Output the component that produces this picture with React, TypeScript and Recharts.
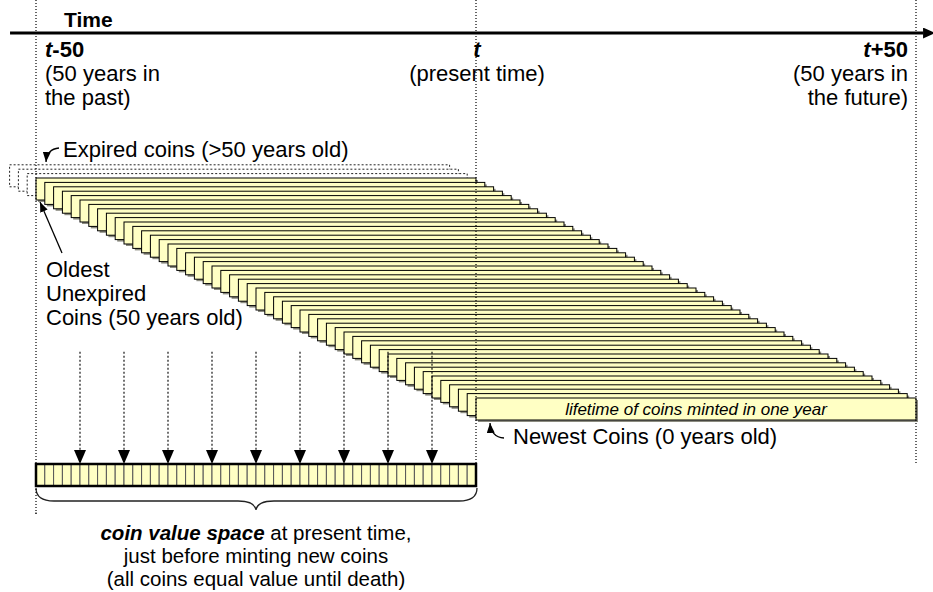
import React from "react";
import {
  ComposedChart,
  XAxis,
  YAxis,
  ReferenceArea,
  ReferenceLine,
  Customized,
} from "recharts";

// years are relative to the present time t
const mintYears = [
  -50, -49, -48, -47, -46, -45, -44, -43, -42, -41, -40, -39, -38, -37, -36, -35, -34,
  -33, -32, -31, -30, -29, -28, -27, -26, -25, -24, -23, -22, -21, -20, -19, -18, -17,
  -16, -15, -14, -13, -12, -11, -10, -9, -8, -7, -6, -5, -4, -3, -2, -1, 0,
];
const expiredYears = [-53, -52, -51];
const valueCells = [
  -50, -49, -48, -47, -46, -45, -44, -43, -42, -41, -40, -39, -38, -37, -36, -35, -34,
  -33, -32, -31, -30, -29, -28, -27, -26, -25, -24, -23, -22, -21, -20, -19, -18, -17,
  -16, -15, -14, -13, -12, -11, -10, -9, -8, -7, -6, -5, -4, -3, -2, -1,
];
const arrowYears = [-45, -40, -35, -30, -25, -20, -15, -10, -5];
const timeMarks = [-50, 0, 50];
const lifetime = 50;
const lifetimeLabel = "lifetime of coins minted in one year";

// vertical unit: one "row" per year of minting
const coinHeight = 5;
const timeAxisRow = -32.95;
const arrowTopRow = 39.5;
const valueTopRow = 65;
const braceRow = 76.8;

const FONT = "'Liberation Sans', Arial, sans-serif";
const COIN_FILL = "#ffffc4";

const CoinRect = (p: any) => (
  <g>
    <rect x={p.x + 2} y={p.y + 2} width={p.width} height={p.height} fill="#8c8c80" />
    <rect x={p.x} y={p.y} width={p.width} height={p.height} fill={COIN_FILL} stroke="#000" strokeWidth={1} />
  </g>
);

const LifetimeLabel = (p: any) => {
  const vb = p.viewBox || {};
  return (
    <text
      x={vb.x + vb.width / 2}
      y={vb.y + vb.height / 2 + 6}
      textAnchor="middle"
      fontFamily={FONT}
      fontSize={17}
      fontStyle="italic"
      fill="#000"
    >
      {p.value}
    </text>
  );
};

const Annotations = () => (
  <g fontFamily={FONT} fontSize={22} fill="#000">
    <defs>
      <marker id="axisHead" viewBox="0 0 12 11" refX="0" refY="5.5" markerWidth="12" markerHeight="11" markerUnits="userSpaceOnUse" orient="auto">
        <path d="M0,0 L12,5.5 L0,11 Z" fill="#000" />
      </marker>
      <marker id="downHead" viewBox="0 0 14 12" refX="14" refY="6" markerWidth="14" markerHeight="12" markerUnits="userSpaceOnUse" orient="auto">
        <path d="M0,0 L14,6 L0,12 Z" fill="#000" />
      </marker>
      <marker id="smallHead" viewBox="0 0 10 8" refX="10" refY="4" markerWidth="10" markerHeight="8" markerUnits="userSpaceOnUse" orient="auto">
        <path d="M0,0 L10,4 L0,8 Z" fill="#000" />
      </marker>
    </defs>

    <text x={64} y={27} fontSize={21} fontWeight="bold">Time</text>

    <text x={45} y={57} fontWeight="bold"><tspan fontStyle="italic">t</tspan>-50</text>
    <text x={45} y={81}>(50 years in</text>
    <text x={45} y={105}>the past)</text>

    <text x={477} y={57} fontWeight="bold" fontStyle="italic" textAnchor="middle">t</text>
    <text x={477} y={81} textAnchor="middle">(present time)</text>

    <text x={908} y={57} fontWeight="bold" textAnchor="end"><tspan fontStyle="italic">t</tspan>+50</text>
    <text x={908} y={81} textAnchor="end">(50 years in</text>
    <text x={908} y={105} textAnchor="end">the future)</text>

    <text x={63} y={157}>Expired coins (&gt;50 years old)</text>
    <path d="M59,148 Q47,149 46,162" fill="none" stroke="#000" strokeWidth={1.3} markerEnd="url(#smallHead)" />

    <text x={46} y={277}>Oldest</text>
    <text x={46} y={301}>Unexpired</text>
    <text x={46} y={325}>Coins (50 years old)</text>
    <line x1={62} y1={253} x2={40} y2={202} stroke="#000" strokeWidth={1.3} markerEnd="url(#smallHead)" />

    <text x={513} y={444}>Newest Coins (0 years old)</text>
    <path d="M504,438 Q491,437 490,423" fill="none" stroke="#000" strokeWidth={1.3} markerEnd="url(#smallHead)" />

    <path
      d="M36,488 C36,497 42,501 54,501 L238,501 C249,501 255,504 256,510 C257,504 263,501 274,501 L459,501 C471,501 477,497 477,488"
      fill="none"
      stroke="#222"
      strokeWidth={1.3}
    />
    <circle cx={36} cy={513} r={0.8} fill="#444" />

    <g fontSize={20.5} textAnchor="middle">
      <text x={256} y={540}>
        <tspan fontWeight="bold" fontStyle="italic">coin value space</tspan> at present time,
      </text>
      <text x={256} y={563}>just before minting new coins</text>
      <text x={256} y={586}>(all coins equal value until death)</text>
    </g>
  </g>
);

export default function App() {
  return (
    <div style={{ position: "absolute", left: 0, top: 0, background: "#fff" }}>
      <ComposedChart width={933} height={592} margin={{ top: 0, right: 0, bottom: 0, left: 0 }}>
        <XAxis type="number" dataKey="x" hide domain={[-54.0909, 51.9318]} allowDataOverflow />
        <YAxis type="number" dataKey="y" hide reversed domain={[-40.4545, 94.0909]} allowDataOverflow />

        <Customized component={Annotations} />

        {expiredYears.map((yr, i) => (
          <ReferenceArea
            key={"e" + yr}
            x1={yr}
            x2={yr + lifetime}
            y1={i - expiredYears.length}
            y2={i - expiredYears.length + coinHeight}
            fill="#fff"
            fillOpacity={1}
            stroke="#222"
            strokeDasharray="2 2"
          />
        ))}

        {mintYears.map((yr, i) => (
          <ReferenceArea
            key={"c" + yr}
            x1={yr}
            x2={yr + lifetime}
            y1={i}
            y2={i + coinHeight}
            shape={CoinRect}
            label={i === mintYears.length - 1 ? <LifetimeLabel value={lifetimeLabel} /> : undefined}
          />
        ))}

        {valueCells.map((yr) => (
          <ReferenceArea
            key={"v" + yr}
            x1={yr}
            x2={yr + 1}
            y1={valueTopRow}
            y2={valueTopRow + coinHeight}
            fill={COIN_FILL}
            fillOpacity={1}
            stroke="#555"
            strokeWidth={1}
          />
        ))}
        <ReferenceArea
          x1={-50}
          x2={0}
          y1={valueTopRow}
          y2={valueTopRow + coinHeight}
          fill="none"
          stroke="#000"
          strokeWidth={2.5}
        />

        {timeMarks.map((yr) => (
          <ReferenceLine
            key={"t" + yr}
            segment={[
              { x: yr, y: -40.4545 },
              { x: yr, y: yr === -50 ? braceRow : valueTopRow },
            ]}
            stroke="#000"
            strokeWidth={1.2}
            strokeDasharray="1 2"
          />
        ))}

        {arrowYears.map((yr) => (
          <ReferenceLine
            key={"a" + yr}
            segment={[
              { x: yr, y: arrowTopRow },
              { x: yr, y: valueTopRow },
            ]}
            stroke="#000"
            strokeWidth={1.1}
            strokeDasharray="2 2"
            markerEnd="url(#downHead)"
          />
        ))}

        <ReferenceLine
          segment={[
            { x: -52.95, y: timeAxisRow },
            { x: 50.8, y: timeAxisRow },
          ]}
          stroke="#000"
          strokeWidth={3}
          markerEnd="url(#axisHead)"
        />
      </ComposedChart>
    </div>
  );
}
